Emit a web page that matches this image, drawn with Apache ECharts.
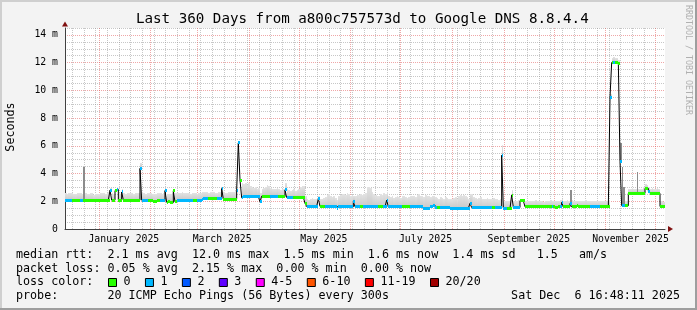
<!DOCTYPE html>
<html>
<head>
<meta charset="utf-8">
<script src="https://cdn.jsdelivr.net/npm/echarts@6/dist/echarts.min.js"></script>
<style>
html,body{margin:0;padding:0;background:#f3f3f3;}
#c{width:697px;height:310px;}
</style>
</head>
<body>
<div id="c"></div>
<script>
// ---------------- data ----------------
const titleText = 'Last 360 Days from a800c757573d to Google DNS 8.8.4.4';
const startUTC = [2024, 11, 11, 16, 48];      // graph start (Dec 11 2024 16:48)
const spanDays = 360;
const monthLabels = ['January 2025', 'March 2025', 'May 2025', 'July 2025', 'September 2025', 'November 2025'];
const monthLabelDates = [[2025,0,16],[2025,2,16],[2025,4,16],[2025,6,16],[2025,8,16],[2025,10,16]];
const yTickValues = [0, 2, 4, 6, 8, 10, 12, 14];
const yMax = 14.5;

// median rtt (ms), one value per day
const median = [
2.08,2.08,2.08,2.08,2.08,2.08,2.08,2.08,2.08,2.08,2.08,2.08,2.08,2.08,2.08,2.08,2.08,2.06,2.06,2.06,
2.08,2.08,2.08,2.08,2.08,2.08,2.08,2.8,2.08,2.08,2.77,2.86,2.08,2.08,2.67,2.08,2.08,2.08,2.08,2.08,
2.08,2.08,2.08,2.08,2.08,4.37,2.08,2.08,2.08,2.08,2.08,2.08,2.08,1.97,1.97,2.05,2.05,2.05,2.05,2.05,
2.77,1.93,1.95,1.93,1.9,2.75,1.95,2.08,2.08,2.08,2.08,2.08,2.08,2.08,2.08,2.06,2.06,2.08,2.08,2.08,
2.08,2.08,2.12,2.2,2.2,2.2,2.2,2.2,2.2,2.2,2.2,2.2,2.18,2.18,2.92,2.15,2.15,2.15,2.15,2.15,
2.15,2.15,2.15,2.8,6.21,3.53,2.25,2.33,2.33,2.33,2.33,2.33,2.33,2.33,2.33,2.33,2.33,1.97,2.37,2.37,
2.37,2.37,2.37,2.35,2.35,2.35,2.35,2.35,2.33,2.33,2.33,2.33,2.82,2.27,2.27,2.27,2.27,2.27,2.25,2.25,
2.25,2.25,2.3,2.3,1.85,1.62,1.62,1.62,1.62,1.62,1.62,1.62,2.2,1.62,1.62,1.62,1.62,1.62,1.62,1.62,
1.6,1.6,1.6,1.48,1.6,1.6,1.6,1.6,1.6,1.6,1.6,1.6,1.6,2.0,1.6,1.6,1.6,1.6,1.6,1.6,
1.6,1.6,1.6,1.6,1.6,1.6,1.6,1.6,1.6,1.6,1.6,1.6,1.6,2.08,1.6,1.6,1.6,1.6,1.6,1.6,
1.6,1.6,1.6,1.6,1.6,1.6,1.6,1.6,1.6,1.6,1.6,1.6,1.6,1.6,1.6,1.5,1.5,1.5,1.5,1.6,
1.6,1.72,1.55,1.55,1.55,1.55,1.55,1.55,1.55,1.55,1.55,1.5,1.5,1.5,1.5,1.5,1.5,1.5,1.5,1.5,
1.5,1.5,1.5,1.85,1.55,1.55,1.55,1.55,1.55,1.55,1.55,1.55,1.55,1.55,1.55,1.55,1.55,1.55,1.55,1.55,
1.55,1.55,5.32,1.5,1.5,1.5,1.5,1.5,2.45,1.55,1.55,1.55,1.55,2.04,2.04,2.04,1.6,1.6,1.6,1.6,
1.6,1.6,1.6,1.6,1.6,1.6,1.6,1.6,1.6,1.6,1.6,1.6,1.6,1.6,1.58,1.55,1.6,1.6,1.92,1.6,
1.6,1.6,1.6,1.83,1.6,1.6,1.6,1.7,1.6,1.6,1.6,1.6,1.6,1.6,1.6,1.6,1.6,1.6,1.6,1.6,
1.6,1.6,1.6,1.6,1.6,1.6,1.6,9.52,12.0,12.02,11.98,12.0,11.95,4.89,1.68,1.66,1.66,1.68,2.57,2.57,
2.57,2.57,2.57,2.57,2.57,2.57,2.57,2.57,2.93,2.93,2.72,2.57,2.57,2.57,2.57,2.57,2.57,1.62,1.62,1.6
];

// lost pings per day (index into lossColors)
const loss = [
1,1,1,1,0,0,0,0,0,1,1,0,0,0,0,0,0,0,0,0,
0,0,0,0,0,0,0,1,0,0,0,1,0,0,1,0,0,0,0,0,
0,0,0,0,0,1,1,1,1,1,0,0,0,0,0,0,0,1,1,1,
1,0,0,0,0,0,0,1,1,1,1,1,1,1,1,1,1,0,0,1,
1,1,1,1,1,1,0,0,0,0,0,1,1,1,1,0,0,0,0,0,
0,0,0,1,1,0,1,1,1,1,1,1,1,1,1,1,1,1,0,0,
0,0,0,1,1,1,1,1,0,0,0,0,1,1,1,1,1,0,0,0,
0,0,0,0,0,1,1,1,1,1,1,1,1,0,0,0,1,1,1,1,
1,1,1,1,1,1,1,1,1,1,1,1,1,1,1,1,1,0,0,1,
1,1,1,1,1,1,1,1,0,0,0,1,1,1,1,1,1,1,1,1,
1,1,0,0,0,0,0,1,1,1,1,1,1,1,1,1,1,1,1,1,
1,1,1,0,0,1,1,1,1,1,1,1,1,1,1,1,1,1,1,1,
1,1,1,1,1,1,1,1,1,1,1,1,1,1,1,1,0,0,1,1,
1,1,1,1,1,0,0,0,0,1,1,1,1,0,0,0,0,0,0,0,
0,0,0,0,0,0,0,0,0,0,0,0,1,0,0,0,0,1,1,0,
0,0,0,1,0,0,0,0,0,0,0,0,0,0,0,1,1,1,1,1,
1,0,0,0,0,0,0,1,0,1,0,0,0,1,1,1,0,0,0,0,
0,0,0,0,0,0,0,0,0,0,1,0,0,0,0,0,0,0,0,0
];

// top of the smoke (slowest pings, ms), one value per day
const smokeTop = [
2.6,2.55,2.62,2.58,2.6,2.5,2.55,2.62,2.6,2.58,2.55,2.6,2.62,2.5,2.55,2.6,2.58,2.45,2.5,2.55,
2.55,2.6,2.58,2.62,2.55,2.6,2.65,2.95,2.6,2.55,2.9,3.0,2.6,2.55,2.85,2.6,2.55,2.6,2.62,2.58,
2.6,2.55,2.6,2.58,2.62,4.75,2.7,2.6,2.55,2.6,2.58,2.62,2.55,2.5,2.55,2.6,2.62,2.6,2.55,2.6,
2.85,2.55,2.5,2.55,2.6,2.85,2.6,2.62,2.58,2.6,2.65,2.6,2.58,2.62,2.6,2.55,2.6,2.62,2.58,2.55,
2.6,2.62,2.65,2.68,2.65,2.7,2.62,2.65,2.68,2.7,2.62,2.6,2.65,2.68,3.0,2.65,2.6,2.62,2.68,2.7,
2.7,2.65,2.75,2.9,6.3,3.55,3.3,3.25,3.35,3.2,3.3,3.1,3.05,2.95,3.0,2.9,2.95,2.6,2.85,2.95,
3.05,3.15,3.1,2.95,2.9,2.85,2.9,2.95,2.85,2.8,2.9,2.85,3.3,2.85,2.8,2.75,2.8,2.85,2.75,2.8,
2.9,3.0,3.1,3.1,2.4,2.15,2.1,2.2,2.25,2.15,2.2,2.25,2.35,2.2,2.15,2.25,2.3,2.45,2.5,2.4,
2.3,2.35,2.25,2.1,2.4,2.45,2.55,2.5,2.45,2.6,2.5,2.4,2.45,2.4,2.35,2.5,2.45,2.5,2.45,2.55,
2.6,3.0,3.05,2.95,2.7,2.55,2.45,2.35,2.4,2.5,2.45,2.6,2.55,2.65,2.4,2.3,2.35,2.25,2.3,2.35,
2.3,2.25,2.35,2.4,2.3,2.25,2.3,2.35,2.4,2.35,2.3,2.45,2.5,2.4,2.35,2.3,2.45,2.4,2.35,2.3,
2.35,2.4,2.3,2.25,2.2,2.3,2.25,2.2,2.3,2.25,2.2,2.15,2.2,2.25,2.3,2.2,2.35,2.45,2.4,2.45,
2.4,2.3,2.2,2.5,2.55,2.3,2.25,2.2,2.25,2.3,2.2,2.15,2.2,2.25,2.2,2.15,2.2,2.25,2.2,2.15,
2.1,2.15,6.05,2.05,2.0,2.05,2.0,2.1,2.8,2.05,2.0,2.05,2.1,2.2,2.15,2.2,2.0,2.05,2.0,2.05,
2.0,2.05,2.1,2.05,2.0,2.05,2.0,1.95,2.05,2.0,2.05,2.1,2.05,2.0,2.05,2.0,2.05,2.1,2.15,2.05,
2.05,2.1,2.05,2.8,2.1,2.05,2.0,2.05,2.0,2.05,2.0,2.05,2.1,2.05,2.0,2.05,2.0,2.05,2.0,2.05,
2.0,2.05,2.0,2.05,2.0,2.05,2.1,9.75,12.35,12.4,12.3,12.35,12.2,6.2,4.5,3.0,2.0,2.05,2.85,2.9,
2.95,2.85,2.9,2.95,2.9,2.85,2.9,3.0,3.25,3.2,3.0,2.9,2.95,2.9,2.85,2.95,2.9,2.05,2.0,1.95
];

// dense dark smoke: [day, top ms]
const darkSmoke = [[11, 4.48], [105, 3.55], [303, 2.8], [333, 6.2], [334, 4.5], [335, 3.0], [343, 4.08]];

const lossLegend = ['0', '1', '2', '3', '4-5', '6-10', '11-19', '20/20'];
const lossColors = ['#26ff00', '#00b8ff', '#0059ff', '#5e00ff', '#ff00ff', '#ff5500', '#ff0000', '#a10000'];

const statLine1 = 'median rtt:  2.1 ms avg  12.0 ms max  1.5 ms min  1.6 ms now  1.4 ms sd   1.5   am/s';
const statLine2 = 'packet loss: 0.05 % avg  2.15 % max  0.00 % min  0.00 % now';
const statLine3 = 'loss color:';
const statLine4 = 'probe:       20 ICMP Echo Pings (56 Bytes) every 300s';
const stampText = 'Sat Dec  6 16:48:11 2025';
const yName = 'Seconds';
const watermark = 'RRDTOOL / TOBI OETIKER';

// ---------------- derived axis helpers ----------------
const startMs = Date.UTC.apply(null, startUTC);
const dayOf = (y, m, d) => (Date.UTC(y, m, d) - startMs) / 86400000;
const monthDays = [];
for (let m = 0; m < 12; m++) monthDays.push(dayOf(2025, m, 1));
const weekDays = [];
for (let t = dayOf(2024, 11, 16); t <= spanDays; t += 7) {
  if (!monthDays.some(md => Math.abs(md - t) < 0.01)) weekDays.push(t);
}
const labelDays = monthLabelDates.map(a => dayOf(a[0], a[1], a[2]));
const yMinorValues = [];
for (let v = 0.5; v <= yMax + 1e-9; v += 0.5) if (Math.abs(v % 2) > 1e-9) yMinorValues.push(v);

const mono = '"DejaVu Sans Mono", monospace';
const legendPx = 11.7;
const charW = legendPx * 0.6021;
const axisPx = 9.8;

const majorGrid = {show: true, lineStyle: {color: 'rgba(224,80,80,0.5)', type: 'dotted', width: 1}};
const minorGrid = {show: true, lineStyle: {color: 'rgba(144,144,144,0.5)', type: 'dotted', width: 1}};

// ---------------- graphics (texts / frame) ----------------
const gfx = [];
gfx.push({type: 'rect', silent: true, shape: {x: 0, y: 0, width: 697, height: 2}, style: {fill: '#cfcfcf'}});
gfx.push({type: 'rect', silent: true, shape: {x: 0, y: 0, width: 2, height: 310}, style: {fill: '#cfcfcf'}});
gfx.push({type: 'rect', silent: true, shape: {x: 0, y: 308, width: 697, height: 2}, style: {fill: '#9e9e9e'}});
gfx.push({type: 'rect', silent: true, shape: {x: 695, y: 0, width: 2, height: 310}, style: {fill: '#9e9e9e'}});

function txt(x, y, s, extra) {
  return Object.assign({type: 'text', x: x, y: y, silent: true,
    style: {text: s, font: legendPx + 'px ' + mono, fill: '#000', textAlign: 'left', textVerticalAlign: 'middle'}}, extra || {});
}
gfx.push(txt(16, 255, statLine1));
gfx.push(txt(16, 268.5, statLine2));
gfx.push(txt(16, 282, statLine3));
gfx.push(txt(16, 296, statLine4));
gfx.push({type: 'text', x: 680, y: 296, silent: true,
  style: {text: stampText, font: legendPx + 'px ' + mono, fill: '#000', textAlign: 'right', textVerticalAlign: 'middle'}});

let bx = 108;
lossLegend.forEach((lab, i) => {
  gfx.push({type: 'rect', silent: true, shape: {x: bx + 0.5, y: 278.5, width: 8, height: 8},
    style: {fill: lossColors[i], stroke: '#000', lineWidth: 1}});
  gfx.push(txt(bx + 15.5, 282, lab));
  bx = bx + 15.5 + lab.length * charW + 14.4;
});

gfx.push({type: 'text', x: 11, y: 127, rotation: Math.PI / 2, silent: true,
  style: {text: yName, font: legendPx + 'px ' + mono, fill: '#000', textAlign: 'center', textVerticalAlign: 'middle'}});
gfx.push({type: 'text', x: 688, y: 60, rotation: -Math.PI / 2, silent: true,
  style: {text: watermark, font: '8.3px ' + mono, fill: '#b0b0b0', textAlign: 'center', textVerticalAlign: 'middle'}});

// ---------------- chart ----------------
const chart = echarts.init(document.getElementById('c'), null, {renderer: 'canvas', width: 697, height: 310});

const smokeFill = new echarts.graphic.LinearGradient(0, 0, 0, 1, [
  {offset: 0, color: '#e3e3e3'}, {offset: 1, color: '#c9c9c9'}
]);

function dayRect(api, d, vLow, vHigh) {
  const a = api.coord([d, vLow]);
  const b = api.coord([d + 1, vHigh]);
  const x0 = Math.round(a[0]), x1 = Math.round(b[0]);
  const yTop = Math.round(Math.min(a[1], b[1]));
  const yBot = Math.round(Math.max(a[1], b[1]));
  return {x: x0, y: yTop, width: Math.max(1, x1 - x0), height: Math.max(1, yBot - yTop)};
}

const option = {
  animation: false,
  backgroundColor: '#f3f3f3',
  title: {
    text: titleText, left: 136, top: 12, padding: 0,
    textStyle: {fontFamily: mono, fontSize: 14.2, fontWeight: 'normal', color: '#000'}
  },
  grid: {left: 65, right: 32, top: 28, bottom: 81, show: true, backgroundColor: '#ffffff', borderWidth: 0},
  xAxis: [
    {
      type: 'value', min: 0, max: spanDays, position: 'bottom',
      axisLine: {show: true, lineStyle: {color: '#404040', width: 1}},
      axisTick: {show: false, customValues: monthDays},
      axisLabel: {
        customValues: labelDays, margin: 5, color: '#000', fontFamily: mono, fontSize: axisPx,
        formatter: function (v) {
          const i = labelDays.findIndex(d => Math.abs(d - v) < 1e-6);
          return i >= 0 ? monthLabels[i] : '';
        }
      },
      splitLine: majorGrid
    },
    {
      type: 'value', min: 0, max: spanDays, position: 'bottom',
      axisLine: {show: true, symbol: ['none', 'triangle'], symbolSize: [6, 5], symbolOffset: [0, 5.5],
        lineStyle: {color: '#801010', width: 1, opacity: 0}},
      axisTick: {show: false, customValues: weekDays},
      axisLabel: {show: false},
      splitLine: minorGrid
    }
  ],
  yAxis: [
    {
      type: 'value', min: 0, max: yMax, position: 'left',
      axisLine: {show: true, lineStyle: {color: '#404040', width: 1}},
      axisTick: {show: false, customValues: yTickValues},
      axisLabel: {
        customValues: yTickValues, margin: 7, color: '#000', fontFamily: mono, fontSize: axisPx,
        formatter: v => (v === 0 ? '0' : v + ' m')
      },
      splitLine: majorGrid
    },
    {
      type: 'value', min: 0, max: yMax, position: 'left',
      axisLine: {show: true, symbol: ['none', 'triangle'], symbolSize: [6, 5], symbolOffset: [0, 4],
        lineStyle: {color: '#801010', width: 1, opacity: 0}},
      axisTick: {show: false, customValues: yMinorValues},
      axisLabel: {show: false},
      splitLine: minorGrid
    }
  ],
  series: [
    {
      name: 'smoke', type: 'custom', xAxisIndex: 0, yAxisIndex: 0, silent: true, z: 1,
      data: smokeTop.map((t, i) => [i, median[i], t]),
      renderItem: function (params, api) {
        const d = api.value(0), m = api.value(1), t = api.value(2);
        return {type: 'rect', shape: dayRect(api, d, m, t), style: {fill: smokeFill}};
      }
    },
    {
      name: 'dark smoke', type: 'custom', xAxisIndex: 0, yAxisIndex: 0, silent: true, z: 2,
      data: darkSmoke.map(p => [p[0], median[p[0]], p[1]]),
      renderItem: function (params, api) {
        const d = api.value(0), m = api.value(1), t = api.value(2);
        return {type: 'rect', shape: dayRect(api, d, m, t), style: {fill: '#8c8c8c'}};
      }
    },
    {
      name: 'median', type: 'line', xAxisIndex: 0, yAxisIndex: 0, silent: true, z: 3,
      step: 'end', symbol: 'none', showSymbol: false,
      lineStyle: {color: '#000', width: 1},
      data: median.map((v, i) => [i, v]).concat([[spanDays, median[median.length - 1]]])
    },
    {
      name: 'loss colour', type: 'custom', xAxisIndex: 0, yAxisIndex: 0, silent: true, z: 4,
      data: median.map((v, i) => [i, v, loss[i]]),
      renderItem: function (params, api) {
        const d = api.value(0), v = api.value(1), k = api.value(2);
        const a = api.coord([d, v]);
        const b = api.coord([d + 1, v]);
        const x0 = Math.round(a[0]), x1 = Math.round(b[0]);
        const yc = Math.floor(a[1]);
        return {type: 'rect', shape: {x: x0, y: yc - 1, width: Math.max(1, x1 - x0), height: 3},
          style: {fill: lossColors[k]}};
      }
    }
  ],
  graphic: gfx
};
chart.setOption(option);
</script>
</body>
</html>
